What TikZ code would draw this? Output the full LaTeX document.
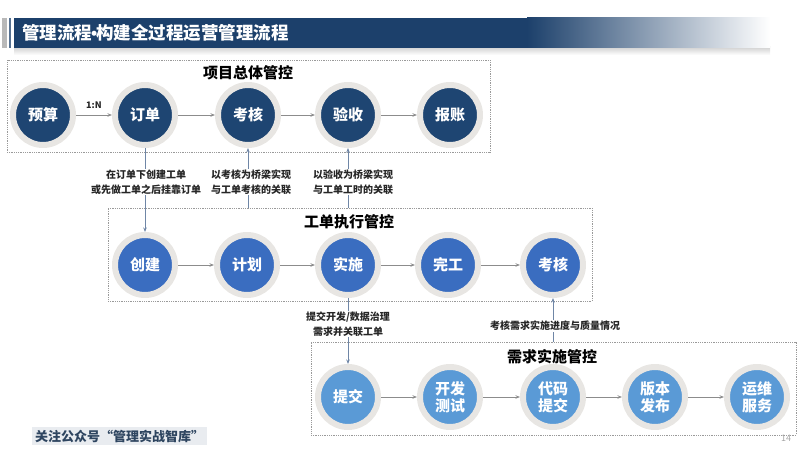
\documentclass[tikz,border=0pt]{standalone}
\usepackage{fontspec}
\setmainfont{Noto Sans CJK SC}
\newfontfamily\latinf{Liberation Sans}
\usetikzlibrary{arrows.meta,calc}
\definecolor{titlec}{HTML}{1C406B}
\definecolor{navy}{HTML}{1E4572}
\definecolor{royal}{HTML}{3A6DC0}
\definecolor{sky}{HTML}{5A9AD6}
\definecolor{ringc}{HTML}{E8E6E3}
\definecolor{arrc}{HTML}{8C8C8C}
\definecolor{vconc}{HTML}{6F86A6}
\definecolor{boxc}{HTML}{9A9A9A}
\definecolor{notec}{HTML}{2E4560}
\definecolor{notebg}{HTML}{E9ECF0}
\begin{document}
\begin{tikzpicture}[x=1pt,y=-1pt,
  proc/.style={circle, minimum size=60pt, inner sep=0pt, draw=ringc, line width=6pt,
    text=white, font=\bfseries\fontsize{15}{17}\selectfont, align=center},
  procA/.style={proc, fill=navy},
  procB/.style={proc, fill=royal},
  procC/.style={proc, fill=sky},
  harr/.style={draw=arrc, line width=0.8pt, -{Stealth[length=4.5pt,width=3.5pt]}},
  varr/.style={draw=vconc, line width=0.8pt, -{Stealth[length=4.5pt,width=3.5pt]}},
  groupbox/.style={draw=boxc, densely dotted, line width=0.8pt, inner sep=0pt},
  grouptitle/.style={font=\bfseries\fontsize{15}{18}\selectfont, text=black},
  lbl/.style={fill=white, inner sep=1pt, align=center, font=\bfseries\fontsize{10}{15}\selectfont, text=black!85}
]
\useasboundingbox (0,0) rectangle (800,449);
% title bar
\shade[top color=black!18, bottom color=white] (14,47) rectangle (770,55);
\fill[gray!55] (2,18) rectangle (7,48);
\fill[titlec!75] (9,18) rectangle (11,48);
\fill[titlec] (14,18) rectangle (527,48);
\shade[left color=titlec, right color=white] (527,18) rectangle (770,48);
\node[anchor=west, text=white, font=\bfseries\fontsize{17.5}{20}\selectfont, inner sep=0pt] (title) at (22,33) {管理流程{\latinf\bfseries\kern-1pt•\kern-1pt}构建全过程运营管理流程};

% group boxes
\node[groupbox, minimum width=483pt, minimum height=92pt] (g1) at (248.5,106) {};
\node[groupbox, minimum width=484pt, minimum height=93pt] (g2) at (350,254.5) {};
\node[groupbox, minimum width=485pt, minimum height=93pt] (g3) at (553.5,388.5) {};
\node[grouptitle] (t1) at (248,73) {项目总体管控};
\node[grouptitle] (t2) at (349,222) {工单执行管控};
\node[grouptitle] (t3) at (552,357) {需求实施管控};

% row 1
\node[procA] (ys) at (43,115) {预算};
\node[procA] (dd) at (145,115) {订单};
\node[procA] (kh) at (248,115) {考核};
\node[procA] (yy) at (348,115) {验收};
\node[procA] (bz) at (450,115) {报账};
% row 2
\node[procB] (cj) at (145,265) {创建};
\node[procB] (jh) at (247,265) {计划};
\node[procB] (ss) at (348,265) {实施};
\node[procB] (wg) at (448,265) {完工};
\node[procB] (kh2) at (553,265) {考核};
% row 3
\node[procC] (tj) at (348,397) {提交};
\node[procC] (kf) at (450,397) {开发\\测试};
\node[procC] (dm) at (553,397) {代码\\提交};
\node[procC] (bb) at (655,397) {版本\\发布};
\node[procC] (yw) at (757,397) {运维\\服务};

% horizontal arrows
\draw[harr] (ys) -- node[above=3pt, font=\bfseries\fontsize{9}{10}\selectfont, text=black!85] (r1n) {1:N} (dd);
\draw[harr] (dd) -- (kh);
\draw[harr] (kh) -- (yy);
\draw[harr] (yy) -- (bz);
\draw[harr] (cj) -- (jh);
\draw[harr] (jh) -- (ss);
\draw[harr] (ss) -- (wg);
\draw[harr] (wg) -- (kh2);
\draw[harr] (tj) -- (kf);
\draw[harr] (kf) -- (dm);
\draw[harr] (dm) -- (bb);
\draw[harr] (bb) -- (yw);

% vertical connectors
\coordinate (c2k) at (248,208);
\coordinate (c2y) at (348,208);
\coordinate (c3k) at (553,342);
\draw[varr] (dd) -- (cj);
\draw[varr] (c2k) -- (kh);
\draw[varr] (c2y) -- (yy);
\draw[varr] (ss) -- (tj);
\draw[varr] (c3k) -- (kh2);

% labels
\node[lbl] (l1) at (146,182) {在订单下创建工单\\或先做工单之后挂靠订单};
\node[lbl] (l2) at (251,182) {以考核为桥梁实现\\与工单考核的关联};
\node[lbl] (l3) at (353,182) {以验收为桥梁实现\\与工单工时的关联};
\node[lbl] (l4) at (348,324) {提交开发/数据治理\\需求并关联工单};
\node[lbl] (l5) at (555,326) {考核需求实施进度与质量情况};

% footer
\node[fill=notebg, text=notec, font=\bfseries\fontsize{13}{15}\selectfont, inner xsep=3pt, inner ysep=3pt] (note) at (119.5,436) {关注公众号“管理实战智库”};
\node[text=gray!70, font=\fontsize{9}{10}\selectfont] (pg) at (786,438) {14};
\end{tikzpicture}
\end{document}
